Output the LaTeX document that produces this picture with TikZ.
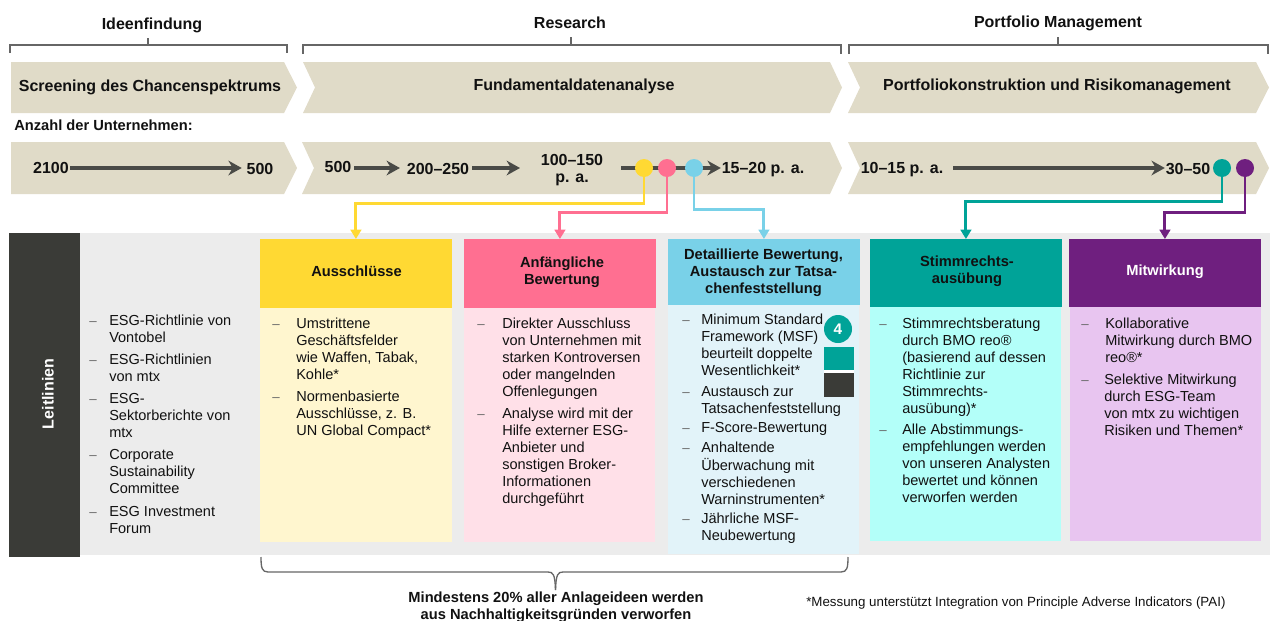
\documentclass[tikz,border=0pt]{standalone}
\usepackage{fontspec}
\setmainfont{Liberation Sans}
\usetikzlibrary{arrows.meta,calc}
\definecolor{sand}{HTML}{E0DBC8}
\definecolor{darkbar}{HTML}{3A3B37}
\definecolor{panel}{HTML}{ECECEC}
\definecolor{cY}{HTML}{FFD933}\definecolor{cYl}{HTML}{FFF6CF}
\definecolor{cP}{HTML}{FF6F91}\definecolor{cPl}{HTML}{FFE0E8}
\definecolor{cB}{HTML}{79D1E8}\definecolor{cBl}{HTML}{E2F3F9}
\definecolor{cT}{HTML}{00A398}\definecolor{cTl}{HTML}{B3FFF9}
\definecolor{cV}{HTML}{6F1F7F}\definecolor{cVl}{HTML}{E8C5F0}
\definecolor{ink}{HTML}{111111}
\definecolor{brk}{HTML}{666666}
\definecolor{arr}{HTML}{4A4B47}
\tikzset{
 lbl/.style={inner sep=0pt,font=\fontsize{11}{12.75}\selectfont\bfseries,text=ink,align=center},
 big/.style={inner sep=0pt,font=\fontsize{12}{12.75}\selectfont\bfseries,text=ink,align=center},
 bodytxt/.style={inner sep=0pt,anchor=north west,align=left,text=ink,font=\fontsize{10.9}{12.75}\selectfont},
 dashmark/.style={inner sep=0pt,anchor=north,text=brk,font=\fontsize{10}{12.75}\selectfont},
 bracket/.style={draw=brk,line width=1pt},
 flow/.style={draw=arr,line width=2.6pt,-{Stealth[length=10pt,width=11pt]}},
 dot/.style={circle,minimum size=13.5pt,inner sep=0pt},
 link/.style={line width=2.2pt,-{Triangle[length=7pt,width=8pt]}},
 head/.style={minimum width=143.5pt,inner sep=0pt,anchor=north west},
}
\newcommand{\chev}[6]{\fill[sand] (#1,#5) -- (#3,#5) -- (#4,{(#5+#6)/2}) -- (#3,#6) -- (#1,#6) -- (#2,{(#5+#6)/2}) -- cycle;}
\newcommand{\bul}[5]{\node[dashmark] (#1d) at (#2,{#4-6.8}) {\strut –};
 \node[bodytxt] (#1) at (#3,{#4-6.8}) {\strut #5};}
\begin{document}
\begin{tikzpicture}[x=0.75pt,y=-0.75pt]
\useasboundingbox (0,0) rectangle (1275,621);
% phase labels and brackets
\node[big] (phA) at (152,25.5) {Ideenfindung};
\node[big] (phB) at (570,22.5) {Research};
\node[big] (phC) at (1058,23.5) {Portfolio Management};
\draw[bracket] (10,53) -- (10,45) -- (287,45) -- (287,53) (148,45) -- (148,38);
\draw[bracket] (303,54) -- (303,45) -- (841,45) -- (841,54) (571,45) -- (571,37);
\draw[bracket] (849,54) -- (849,45) -- (1268,45) -- (1268,54) (1058,45) -- (1058,37);
% chevrons
\chev{11}{11}{284}{297}{62}{113}
\chev{303}{315}{830}{842}{62}{113}
\chev{848}{860}{1256}{1269}{62}{113}
\chev{11}{11}{284}{297}{142}{194}
\chev{302}{314}{830}{842}{142}{194}
\chev{848}{860}{1256}{1269}{142}{194}
\node[big] (sA) at (150,87.5) {Screening des Chancenspektrums};
\node[big] (sB) at (574,86.5) {Fundamentaldatenanalyse};
\node[big] (sC) at (1057,86.5) {Portfoliokonstruktion und Risikomanagement};
\node[lbl,anchor=west] (anz) at (14,125.5) {Anzahl der Unternehmen:};
% counts
\node[big] (n2100) at (51,168) {2100};
\node[big] (n500a) at (260,169) {500};
\node[big] (n500b) at (338,167) {500};
\node[big] (n200) at (438,169) {200–250};
\node[big] (n100) at (572,170) {100–150\\p. a.};
\node[big] (n15) at (763,170) {15–20 p. a.};
\node[big] (n10) at (902,170) {10–15 p. a.};
\node[big] (n30) at (1188,169) {30–50};
\coordinate (lineStart) at (621,168);
\coordinate (aEnd) at (520,168);
\draw[flow,shorten <=1pt,shorten >=3.5pt] (n2100.east |- lineStart) -- (n500a.west |- lineStart);
\draw[flow,shorten <=2pt,shorten >=5pt] (n500b.east |- lineStart) -- (n200.west |- lineStart);
\draw[flow,shorten <=2pt] (n200.east |- lineStart) -- (aEnd);
\draw[flow,shorten >=0.5pt] (lineStart) -- (n15.west |- lineStart);
\draw[flow,shorten <=7.5pt,shorten >=0.5pt] (n10.east |- lineStart) -- (n30.west |- lineStart);
\node[dot,fill=cY] (dY) at (644,168) {};
\node[dot,fill=cP] (dP) at (667,168) {};
\node[dot,fill=cB] (dB) at (694,168) {};
\node[dot,fill=cT] (dT) at (1222,168) {};
\node[dot,fill=cV] (dV) at (1245,168) {};
% panel
\fill[panel] (80,233) rectangle (1270,555);
\node[fill=darkbar,minimum width=53.25pt,minimum height=243pt,inner sep=0pt,anchor=north west] (lt) at (9,233) {};
\node[big,rotate=90,text=white] (ltt) at (48,394) {Leitlinien};
% column bodies
\fill[cYl] (260,308) rectangle (452,542);
\fill[cPl] (464,308) rectangle (655,542);
\fill[cBl] (668,305) rectangle (859,554);
\fill[cTl] (870,307) rectangle (1061,541);
\fill[cVl] (1070,307) rectangle (1261,541);
% headers
\node[head,fill=cY,minimum height=51.75pt] (hY) at (260,239) {};
\node[head,fill=cP,minimum height=51.75pt] (hP) at (464,239) {};
\node[head,fill=cB,minimum height=49.5pt] (hB) at (668,239) {};
\node[head,fill=cT,minimum height=51pt] (hT) at (870,239) {};
\node[head,fill=cV,minimum height=51pt] (hV) at (1069,239) {};
\node[lbl] (hYt) at (356.5,271.5) {Ausschlüsse};
\node[lbl] (hPt) at (562,272) {Anfängliche\\Bewertung};
\node[lbl] (hBt) at (763.5,272.5) {Detaillierte Bewertung,\\Austausch zur Tatsa-\\chenfeststellung};
\node[lbl] (hTt) at (967,271) {Stimmrechts-\\ausübung};
\node[lbl,text=white] (hVt) at (1165,271.5) {Mitwirkung};
% connectors
\draw[link,cY] (dY.south) -- ++(0,26) -| (hY.north);
\draw[link,cP] (dP.south) -- ++(0,35) -| (hP.north);
\draw[link,cB] (dB.south) -- ++(0,32) -| (hB.north);
\draw[link,cT] (dT.south) -- ++(0,24) -| (hT.north);
\draw[link,cV] (dV.south) -- ++(0,35) -| (hV.north);
% left list
\bul{la}{93}{109}{320}{ESG-Richtlinie von\\Vontobel}
\bul{lb}{93}{109}{359}{ESG-Richtlinien\\von mtx}
\bul{lc}{93}{109}{398}{ESG-\\Sektorberichte von\\mtx}
\bul{ld}{93}{109}{454}{Corporate\\Sustainability\\Committee}
\bul{le}{93}{109}{511}{ESG Investment\\Forum}
% yellow
\bul{ya}{276}{296}{323}{Umstrittene\\Geschäftsfelder\\wie Waffen, Tabak,\\Kohle*}
\bul{yb}{276}{296}{396}{Normenbasierte\\Ausschlüsse, z. B.\\UN Global Compact*}
% pink
\bul{pa}{481}{502}{323}{Direkter Ausschluss\\von Unternehmen mit\\starken Kontroversen\\oder mangelnden\\Offenlegungen}
\bul{pb}{481}{502}{413}{Analyse wird mit der\\Hilfe externer ESG-\\Anbieter und\\sonstigen Broker-\\Informationen\\durchgeführt}
% blue
\bul{ba}{686}{701}{319}{Minimum Standard\\Framework (MSF)\\beurteilt doppelte\\Wesentlichkeit*}
\bul{bb}{686}{701}{391}{Austausch zur\\Tatsachenfeststellung}
\bul{bc}{686}{701}{427}{F-Score-Bewertung}
\bul{bd}{686}{701}{447}{Anhaltende\\Überwachung mit\\verschiedenen\\Warninstrumenten*}
\bul{be}{686}{701}{518}{Jährliche MSF-\\Neubewertung}
% teal
\bul{ta}{883}{902}{323}{Stimmrechtsberatung\\durch BMO reo®\\(basierend auf dessen\\Richtlinie zur\\Stimmrechts-\\ausübung)*}
\bul{tb}{883}{902}{429}{Alle Abstimmungs-\\empfehlungen werden\\von unseren Analysten\\bewertet und können\\verworfen werden}
% purple
\bul{va}{1085}{1105}{323}{Kollaborative\\Mitwirkung durch BMO\\reo®*}
\bul{vb}{1085}{1104}{379}{Selektive Mitwirkung\\durch ESG-Team\\von mtx zu wichtigen\\Risiken und Themen*}
% badge
\fill[white] (824,370) rectangle (854,373);
\fill[cT] (824,347) rectangle (854,370);
\fill[darkbar] (824,373) rectangle (854,397);
\node[circle,fill=cT,minimum size=21pt,inner sep=0pt,text=white,font=\fontsize{11.5}{13}\selectfont\bfseries] (bdg) at (838,329) {4};
% bottom brace
\draw[bracket] (261,557) .. controls (261,568) and (262,572) .. (268,572) -- (548,572) .. controls (553,572) and (555,574) .. (555.5,590);
\draw[bracket] (848,557) .. controls (848,568) and (847,572) .. (841,572) -- (563,572) .. controls (558,572) and (556,574) .. (555.5,590);
\node[lbl] (note) at (556,607.5) {Mindestens 20\% aller Anlageideen werden\\aus Nachhaltigkeitsgründen verworfen};
\node[inner sep=0pt,anchor=west,text=ink,font=\fontsize{10}{11}\selectfont] (foot) at (806,603) {*Messung unterstützt Integration von Principle Adverse Indicators (PAI)};
\end{tikzpicture}
\end{document}
